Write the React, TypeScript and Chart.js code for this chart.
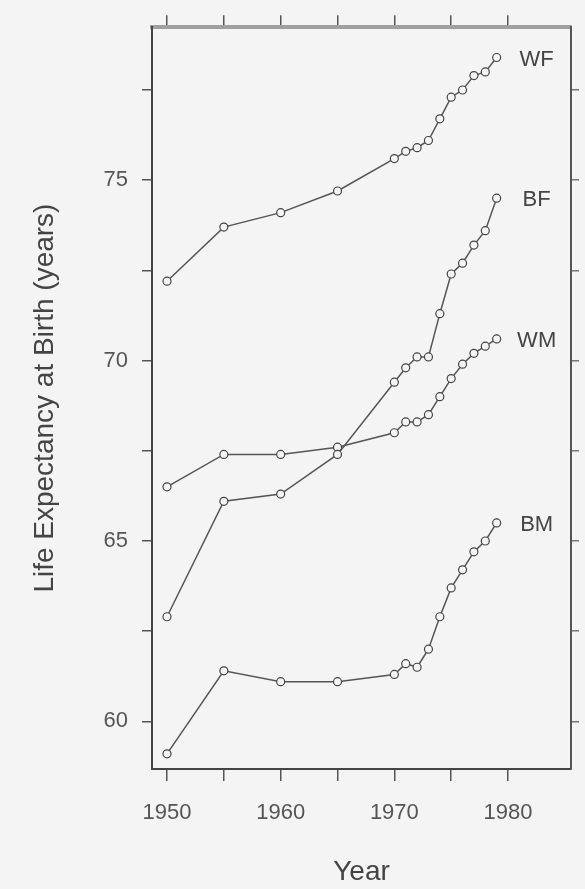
import { useEffect, useRef } from 'react';
import { Chart, registerables } from 'chart.js';

Chart.register(...registerables);

const years = [1950, 1955, 1960, 1965, 1970, 1971, 1972, 1973, 1974, 1975, 1976, 1977, 1978, 1979];
const whiteFemale = [72.2, 73.7, 74.1, 74.7, 75.6, 75.8, 75.9, 76.1, 76.7, 77.3, 77.5, 77.9, 78.0, 78.4];
const blackFemale = [62.9, 66.1, 66.3, 67.4, 69.4, 69.8, 70.1, 70.1, 71.3, 72.4, 72.7, 73.2, 73.6, 74.5];
const whiteMale = [66.5, 67.4, 67.4, 67.6, 68.0, 68.3, 68.3, 68.5, 69.0, 69.5, 69.9, 70.2, 70.4, 70.6];
const blackMale = [59.1, 61.4, 61.1, 61.1, 61.3, 61.6, 61.5, 62.0, 62.9, 63.7, 64.2, 64.7, 65.0, 65.5];
const seriesNames = ['WF', 'BF', 'WM', 'BM'];
const seriesValues = [whiteFemale, blackFemale, whiteMale, blackMale];

const xTickValues = [1950, 1955, 1960, 1965, 1970, 1975, 1980];
const xTickLabels = [1950, 1960, 1970, 1980];
const yTickValues = [60, 62.5, 65, 67.5, 70, 72.5, 75, 77.5];
const yTickLabels = [60, 65, 70, 75];

const FONT = '"Liberation Sans", Arial, Helvetica, sans-serif';
const BG = '#f4f4f4';

const X_MIN = 1948.68;
const X_MAX = 1985.54;
const Y_MIN = 58.68;
const Y_MAX = 79.24;

const endLabels = {
  id: 'endLabels',
  afterDatasetsDraw(chart: any) {
    const ctx = chart.ctx;
    ctx.save();
    ctx.font = `22px ${FONT}`;
    ctx.fillStyle = '#444';
    ctx.textAlign = 'center';
    ctx.textBaseline = 'middle';
    chart.data.datasets.forEach((ds: any, i: number) => {
      const meta = chart.getDatasetMeta(i);
      const pt = meta.data[meta.data.length - 1];
      ctx.fillText(ds.label, pt.x + 40, pt.y + 2);
    });
    ctx.restore();
  },
};

export default function App() {
  const ref = useRef<HTMLCanvasElement | null>(null);

  useEffect(() => {
    if (!ref.current) return;
    const setTicks = (vals: number[]) => (s: any) => {
      s.ticks = vals.map((v) => ({ value: v }));
    };
    const datasets = seriesNames.map((name, i) => ({
      label: name,
      data: years.map((yr, j) => ({ x: yr, y: seriesValues[i][j] })),
      borderColor: '#555',
      borderWidth: 1.5,
      pointRadius: 4,
      pointBorderWidth: 1.2,
      pointBorderColor: '#444',
      pointBackgroundColor: BG,
      fill: false,
      tension: 0,
      xAxisID: 'x',
      yAxisID: 'y',
    }));
    const chart = new Chart(ref.current, {
      type: 'line',
      data: { datasets },
      plugins: [endLabels],
      options: {
        responsive: false,
        animation: false,
        events: [],
        layout: { padding: 0 },
        plugins: { legend: { display: false }, tooltip: { enabled: false } },
        scales: {
          x: {
            type: 'linear',
            position: 'bottom',
            min: X_MIN,
            max: X_MAX,
            afterBuildTicks: setTicks(xTickValues),
            afterFit: (s: any) => { s.height = 120; },
            ticks: {
              callback: (v: any) => (xTickLabels.includes(Number(v)) ? String(v) : ''),
              font: { family: FONT, size: 22 },
              color: '#555',
              padding: 19,
              maxRotation: 0,
              autoSkip: false,
            },
            grid: { display: true, drawOnChartArea: false, drawTicks: true, tickLength: 12, color: '#555', lineWidth: 1.5 },
            border: { display: true, color: '#444', width: 2 },
            title: { display: true, text: 'Year', font: { family: FONT, size: 28 }, color: '#444', padding: { top: 0, bottom: 0 } },
          },
          xTop: {
            type: 'linear',
            position: 'top',
            min: X_MIN,
            max: X_MAX,
            afterBuildTicks: setTicks(xTickValues),
            afterFit: (s: any) => { s.height = 27; },
            ticks: { callback: () => '', autoSkip: false, maxRotation: 0 },
            grid: { display: true, drawOnChartArea: false, drawTicks: true, tickLength: 12, color: '#555', lineWidth: 1.5 },
            border: { display: true, color: '#a0a0a0', width: 4 },
          },
          y: {
            type: 'linear',
            position: 'left',
            min: Y_MIN,
            max: Y_MAX,
            afterBuildTicks: setTicks(yTickValues),
            afterFit: (s: any) => { s.width = 152; },
            ticks: {
              callback: (v: any) => (yTickLabels.includes(Number(v)) ? String(v) : ''),
              font: { family: FONT, size: 22 },
              color: '#555',
              padding: 14,
              autoSkip: false,
            },
            grid: { display: true, drawOnChartArea: false, drawTicks: true, tickLength: 10, color: '#555', lineWidth: 1.5 },
            border: { display: true, color: '#444', width: 2 },
            title: { display: true, text: 'Life Expectancy at Birth (years)', font: { family: FONT, size: 28 }, color: '#444', padding: { top: 28, bottom: 0 } },
          },
          yRight: {
            type: 'linear',
            position: 'right',
            min: Y_MIN,
            max: Y_MAX,
            afterBuildTicks: setTicks(yTickValues),
            afterFit: (s: any) => { s.width = 14; },
            ticks: { callback: () => '', autoSkip: false },
            grid: { display: true, drawOnChartArea: false, drawTicks: true, tickLength: 8, color: '#777', lineWidth: 1.5 },
            border: { display: true, color: '#555', width: 2 },
          },
        },
      },
    });
    return () => chart.destroy();
  }, []);

  return (
    <div style={{ position: 'absolute', left: 0, top: 0, width: 585, height: 889, background: BG }}>
      <canvas ref={ref} width={585} height={889} style={{ width: 585, height: 889, display: 'block' }} />
    </div>
  );
}
